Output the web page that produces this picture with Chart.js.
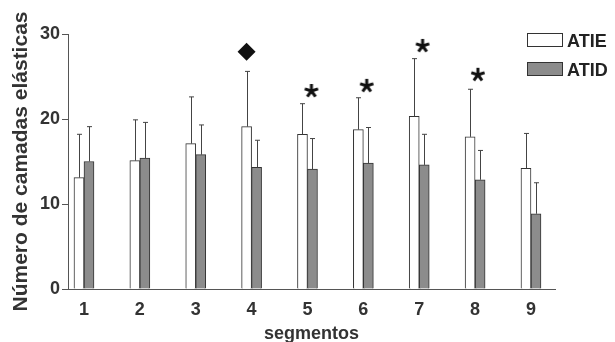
<!DOCTYPE html>
<html>
<head>
<meta charset="utf-8">
<script src="https://cdn.jsdelivr.net/npm/chart.js@4/dist/chart.umd.min.js"></script>
<style>
  html, body { margin: 0; padding: 0; background: #fff; overflow: hidden; }
</style>
</head>
<body>
<canvas id="chart" width="615" height="342"></canvas>
<script>
// values (mean and upper error bar = mean + sd)
const segments = [1, 2, 3, 4, 5, 6, 7, 8, 9];
const atieMean = [13.1, 15.1, 17.1, 19.1, 18.2, 18.75, 20.3, 17.9, 14.2];
const atieSD   = [5.1, 4.8, 5.5, 6.5, 3.6, 3.75, 6.8, 5.6, 4.1];
const atidMean = [15.0, 15.4, 15.8, 14.3, 14.1, 14.8, 14.6, 12.85, 8.85];
const atidSD   = [4.1, 4.2, 3.5, 3.2, 3.6, 4.2, 3.6, 3.45, 3.65];
const yTicks = [0, 10, 20, 30];

// significance marks above the bars
const markX = [3.91, 5.07, 6.06, 7.06, 8.05];
const markY = [27.9, 23.3, 23.9, 28.6, 25.2];
const markType = ['diamond', 'asterisk', 'asterisk', 'asterisk', 'asterisk'];

const seriesNames = ['ATIE', 'ATID'];

Chart.defaults.font.family = '"Liberation Sans", Arial, sans-serif';
Chart.defaults.color = '#333';

// small five-armed asterisk used as point style
const star = document.createElement('canvas');
star.width = 16; star.height = 16;
(function () {
    const c = star.getContext('2d');
    c.strokeStyle = '#111';
    c.lineWidth = 3;
    for (let k = 0; k < 5; k++) {
        const a = -Math.PI / 2 + k * 2 * Math.PI / 5;
        c.beginPath();
        c.moveTo(8, 8);
        c.lineTo(8 + Math.cos(a) * 7, 8 + Math.sin(a) * 7);
        c.stroke();
    }
})();

const errorBars = {
    id: 'errorBars',
    afterDatasetsDraw(chart) {
        const ctx = chart.ctx;
        const y = chart.scales.y;
        const sds = [atieSD, atidSD];
        ctx.save();
        ctx.strokeStyle = '#444';
        ctx.lineWidth = 1;
        [0, 1].forEach(i => {
            const meta = chart.getDatasetMeta(i);
            meta.data.forEach((bar, j) => {
                const x = Math.round(bar.x) + 0.5;
                const top = y.getPixelForValue(chart.data.datasets[i].data[j].y + sds[i][j]);
                ctx.beginPath();
                ctx.moveTo(x, bar.y);
                ctx.lineTo(x, top);
                ctx.moveTo(x - 2.5, top);
                ctx.lineTo(x + 2.5, top);
                ctx.stroke();
            });
        });
        ctx.restore();
    }
};

const boxLegend = {
    id: 'boxLegend',
    afterDraw(chart) {
        const ctx = chart.ctx;
        ctx.save();
        ctx.font = 'bold 18px "Liberation Sans", Arial, sans-serif';
        ctx.textBaseline = 'alphabetic';
        seriesNames.forEach((name, i) => {
            const ds = chart.data.datasets[i];
            const top = 33 + i * 29;
            ctx.fillStyle = ds.backgroundColor;
            ctx.fillRect(527, top, 36, 14);
            ctx.strokeStyle = '#333';
            ctx.lineWidth = 1;
            ctx.strokeRect(527.5, top + 0.5, 35, 13);
            ctx.fillStyle = '#222';
            ctx.fillText(name, 567, top + 14);
        });
        ctx.restore();
    }
};

new Chart(document.getElementById('chart'), {
    type: 'bar',
    data: {
        datasets: [
            {
                label: seriesNames[0],
                data: segments.map((s, i) => ({ x: s, y: atieMean[i] })),
                backgroundColor: '#ffffff',
                borderColor: '#333',
                borderWidth: 1,
                barThickness: 10
            },
            {
                label: seriesNames[1],
                data: segments.map((s, i) => ({ x: s, y: atidMean[i] })),
                backgroundColor: '#8c8c8c',
                borderColor: '#333',
                borderWidth: 1,
                barThickness: 10
            },
            {
                type: 'scatter',
                label: 'marks',
                data: markX.map((x, i) => ({ x: x, y: markY[i] })),
                pointStyle: markType.map(t => t === 'diamond' ? 'rectRot' : star),
                pointRadius: 9,
                backgroundColor: '#111',
                borderColor: '#111',
                borderWidth: 0
            }
        ]
    },
    options: {
        responsive: false,
        animation: false,
        devicePixelRatio: 1,
        layout: { padding: { top: 34, right: 60, left: 0, bottom: 0 } },
        plugins: {
            legend: { display: false },
            tooltip: { enabled: false }
        },
        scales: {
            x: {
                type: 'linear',
                offset: false,
                min: 0.714,
                max: 9.43,
                afterBuildTicks: s => { s.ticks = segments.map(v => ({ value: v })); },
                afterFit: s => { s.height = 53; },
                grid: { display: false, offset: false },
                border: { color: '#555', width: 1 },
                ticks: {
                    font: { size: 18, weight: 'bold' },
                    color: '#333',
                    padding: 2
                },
                title: {
                    display: true,
                    text: 'segmentos',
                    font: { size: 18, weight: 'bold' },
                    color: '#333',
                    padding: { top: 0, bottom: -3 }
                }
            },
            y: {
                min: 0,
                max: 30,
                afterBuildTicks: s => { s.ticks = yTicks.map(v => ({ value: v })); },
                afterFit: s => { s.width = 68; },
                grid: { drawOnChartArea: false, drawTicks: true, tickLength: 6, color: '#555' },
                border: { color: '#555', width: 1 },
                ticks: {
                    font: { size: 18, weight: 'bold' },
                    color: '#333',
                    padding: 2
                },
                title: {
                    display: true,
                    text: 'Número de camadas elásticas',
                    font: { size: 21, weight: 'bold' },
                    color: '#333',
                    padding: { top: 9, bottom: 0 }
                }
            }
        }
    },
    plugins: [errorBars, boxLegend]
});
</script>
</body>
</html>
